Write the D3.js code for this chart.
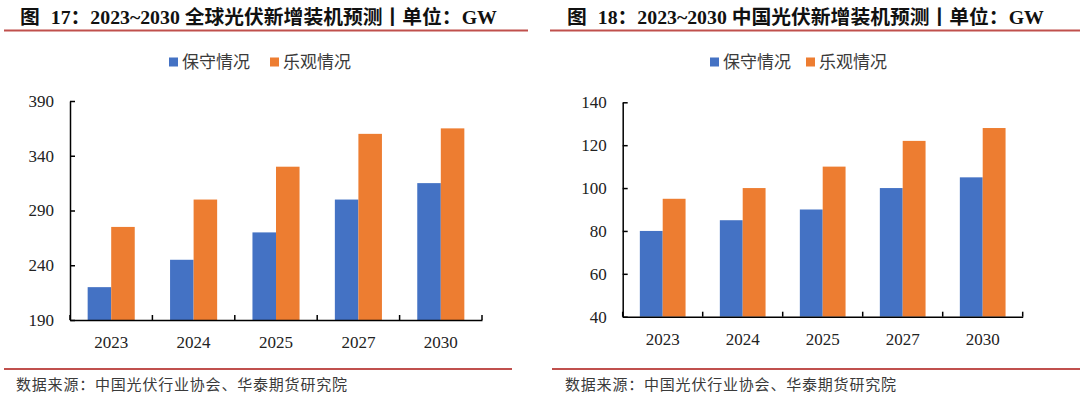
<!DOCTYPE html>
<html lang="zh">
<head>
    <meta charset="UTF-8" />
    <title>光伏新增装机预测</title>
    <script src="https://d3js.org/d3.v7.min.js"></script>
    <style>
        body { margin: 0; background: #fff; }
        svg text { font-family: "Liberation Serif", "Noto Sans CJK SC", serif; }
        .title { font-weight: bold; font-size: 19.8px; fill: #111; }
        .legend text, .source { font-family: "Noto Sans CJK SC", sans-serif; fill: #3a3a3a; }
        .tick text { font-size: 17px; fill: #222; }
    </style>
</head>
<body>
<svg id="chart" width="1080" height="398"></svg>
<script>
    // --- Data ---
    const years = ["2023", "2024", "2025", "2027", "2030"];
    const seriesNames = ["保守情况", "乐观情况"];
    const seriesColors = ["#4472C4", "#ED7D31"];

    const globalConservative = [220, 245, 270, 300, 315];
    const globalOptimistic = [275, 300, 330, 360, 365];
    const globalTicks = [190, 240, 290, 340, 390];

    const chinaConservative = [80, 85, 90, 100, 105];
    const chinaOptimistic = [95, 100, 110, 122, 128];
    const chinaTicks = [40, 60, 80, 100, 120, 140];

    const titleNums = ["17", "18"];
    const titleRest = [
        "：2023~2030 全球光伏新增装机预测丨单位：GW",
        "：2023~2030 中国光伏新增装机预测丨单位：GW"
    ];
    const sourceText = "数据来源：中国光伏行业协会、华泰期货研究院";

    const svg = d3.select("#chart");

    function drawPanel(cfg) {
        const g = svg.append("g");

        // title + red rules
        const t = g.append("text").attr("class", "title")
            .attr("x", cfg.titleX).attr("y", 24);
        t.append("tspan").text("图");
        t.append("tspan").attr("dx", 11).text(cfg.num + cfg.title);
        g.append("line")
            .attr("x1", cfg.ruleX[0]).attr("x2", cfg.ruleX[1])
            .attr("y1", 30.5).attr("y2", 30.5)
            .attr("stroke", "#c0504d").attr("stroke-width", 2.2);
        g.append("line")
            .attr("x1", cfg.footRuleX[0]).attr("x2", cfg.footRuleX[1])
            .attr("y1", 369).attr("y2", 369)
            .attr("stroke", "#c0504d").attr("stroke-width", 2.2);
        g.append("text").attr("class", "source")
            .attr("x", cfg.sourceX).attr("y", 390)
            .attr("font-size", "15px")
            .attr("letter-spacing", "0.8px")
            .text(sourceText);

        // legend
        const legend = g.append("g").attr("class", "legend");
        seriesNames.forEach((name, i) => {
            legend.append("rect")
                .attr("x", cfg.legendX[i]).attr("y", 57.5)
                .attr("width", 9).attr("height", 9)
                .attr("fill", seriesColors[i]);
            legend.append("text")
                .attr("x", cfg.legendX[i] + 13).attr("y", 68)
                .attr("font-size", "17px")
                .text(name);
        });

        // scales
        const x0 = d3.scaleBand().domain(years).range(cfg.xRange).padding(0);
        const x1 = d3.scaleBand().domain([0, 1]).range([0, x0.bandwidth()])
            .paddingInner(0).paddingOuter(0.75);
        const y = d3.scaleLinear().domain(d3.extent(cfg.ticks)).range(cfg.yRange);

        // bars
        const rows = years.map((yr, i) => ({ year: yr, values: [cfg.a[i], cfg.b[i]] }));
        g.append("g").selectAll("g").data(rows).join("g")
            .attr("transform", d => `translate(${x0(d.year)},0)`)
            .selectAll("rect").data(d => d.values).join("rect")
            .attr("x", (d, i) => x1(i))
            .attr("width", x1.bandwidth())
            .attr("y", d => y(d))
            .attr("height", d => y.range()[0] - y(d))
            .attr("fill", (d, i) => seriesColors[i]);

        // y axis (ticks pointing inward)
        g.append("g")
            .attr("transform", `translate(${cfg.xRange[0]},0)`)
            .call(d3.axisLeft(y).tickValues(cfg.ticks).tickSizeInner(-5).tickSizeOuter(0).tickPadding(16))
            .call(a => a.selectAll("line, path").attr("stroke", "#000").attr("stroke-width", 1.5));

        // x axis
        const baseY = cfg.yRange[0];
        const xa = g.append("g")
            .attr("transform", `translate(0,${baseY})`)
            .call(d3.axisBottom(x0).tickSize(0).tickPadding(16))
            .call(a => a.select(".domain").attr("stroke", "#000").attr("stroke-width", 1.5));
        const edges = years.map(d => x0(d)).concat([cfg.xRange[1]]);
        xa.selectAll(".edge").data(edges).join("line")
            .attr("class", "edge")
            .attr("x1", d => d).attr("x2", d => d)
            .attr("y1", 0).attr("y2", -5)
            .attr("stroke", "#000").attr("stroke-width", 1.5);
    }

    drawPanel({
        num: titleNums[0], title: titleRest[0], titleX: 20, ruleX: [4, 528], footRuleX: [4, 512], sourceX: 16,
        legendX: [169, 270],
        xRange: [70, 482], yRange: [320, 101],
        ticks: globalTicks, a: globalConservative, b: globalOptimistic
    });

    drawPanel({
        num: titleNums[1], title: titleRest[1], titleX: 567, ruleX: [550, 1080], footRuleX: [552, 1080], sourceX: 565,
        legendX: [710, 806],
        xRange: [622.7, 1022.7], yRange: [316.7, 102.3],
        ticks: chinaTicks, a: chinaConservative, b: chinaOptimistic
    });
</script>
</body>
</html>
